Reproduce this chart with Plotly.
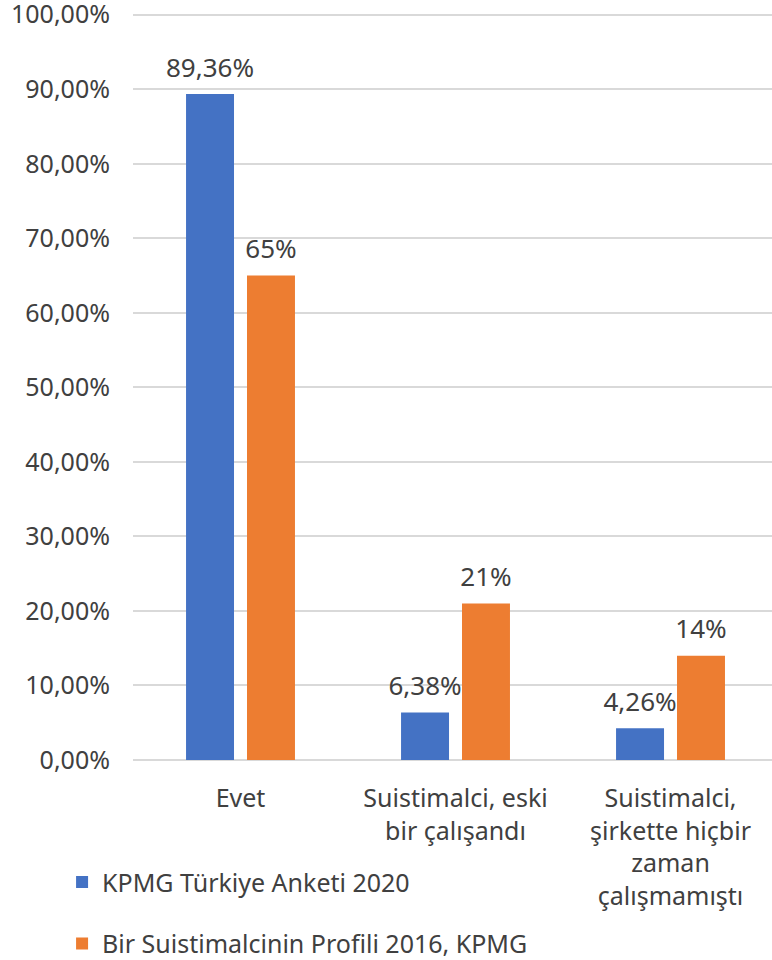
import plotly.graph_objects as go

categories = ["Evet", "Suistimalci, eski<br>bir çalışandı",
              "Suistimalci,<br>şirkette hiçbir<br>zaman<br>çalışmamıştı"]
series_names = ["KPMG Türkiye Anketi 2020", "Bir Suistimalcinin Profili 2016, KPMG"]
kpmg_2020 = [89.36, 6.38, 4.26]
kpmg_2016 = [65, 21, 14]
labels_2020 = ["89,36%", "6,38%", "4,26%"]
labels_2016 = ["65%", "21%", "14%"]
y_ticks = [0, 10, 20, 30, 40, 50, 60, 70, 80, 90, 100]
y_ticktext = ["0,00%", "10,00%", "20,00%", "30,00%", "40,00%", "50,00%",
              "60,00%", "70,00%", "80,00%", "90,00%", "100,00%"]

colors = ["#4472C4", "#ED7D31"]
FONT = "Noto Sans"
TXT = "#404040"

fig = go.Figure()
for i, (vals, labs) in enumerate([(kpmg_2020, labels_2020), (kpmg_2016, labels_2016)]):
    fig.add_trace(go.Bar(
        x=categories, y=vals, name=series_names[i],
        marker=dict(color=colors[i], line=dict(width=0)),
        offsetgroup=str(i), legendgroup=str(i),
    ))
    # data labels, aligned with bars through the same offset groups
    fig.add_trace(go.Scatter(
        x=categories, y=vals, text=labs,
        mode="markers+text", textposition="top center",
        marker=dict(size=16, opacity=0),
        textfont=dict(family=FONT, size=26, color=TXT),
        offsetgroup=str(i), showlegend=False, hoverinfo="skip",
        cliponaxis=False,
    ))

fig.update_layout(
    width=772, height=960,
    margin=dict(l=133, r=0, t=11, b=200, autoexpand=False),
    plot_bgcolor="white", paper_bgcolor="white",
    barmode="group", bargap=0.433, bargroupgap=0.213,
    scattermode="group", scattergap=0.433,
    font=dict(family=FONT, size=25, color=TXT),
    xaxis=dict(
        range=[-0.5, 2.472], showgrid=False, showline=False, zeroline=False,
        tickfont=dict(family=FONT, size=25, color=TXT), automargin=False,
        ticks="outside", ticklen=16, tickcolor="rgba(0,0,0,0)",
    ),
    yaxis=dict(
        range=[0, 100.5], tickvals=y_ticks, ticktext=y_ticktext,
        showgrid=True, gridcolor="#D9D9D9", gridwidth=1.5,
        zeroline=True, zerolinecolor="#D9D9D9", zerolinewidth=1.5,
        tickfont=dict(family=FONT, size=25, color=TXT), automargin=False,
        ticklabelstandoff=22, ticklabeloverflow="allow",
    ),
    legend=dict(
        x=-0.111, y=-0.1325, xanchor="left", yanchor="top",
        orientation="v", tracegroupgap=26,
        font=dict(family=FONT, size=25, color=TXT),
    ),
)

# drop the browser's default 8px body margin so the figure sits at the page corner
fig.write_html("out.html", config={"displayModeBar": False},
               post_script="document.body.style.margin='0';")
